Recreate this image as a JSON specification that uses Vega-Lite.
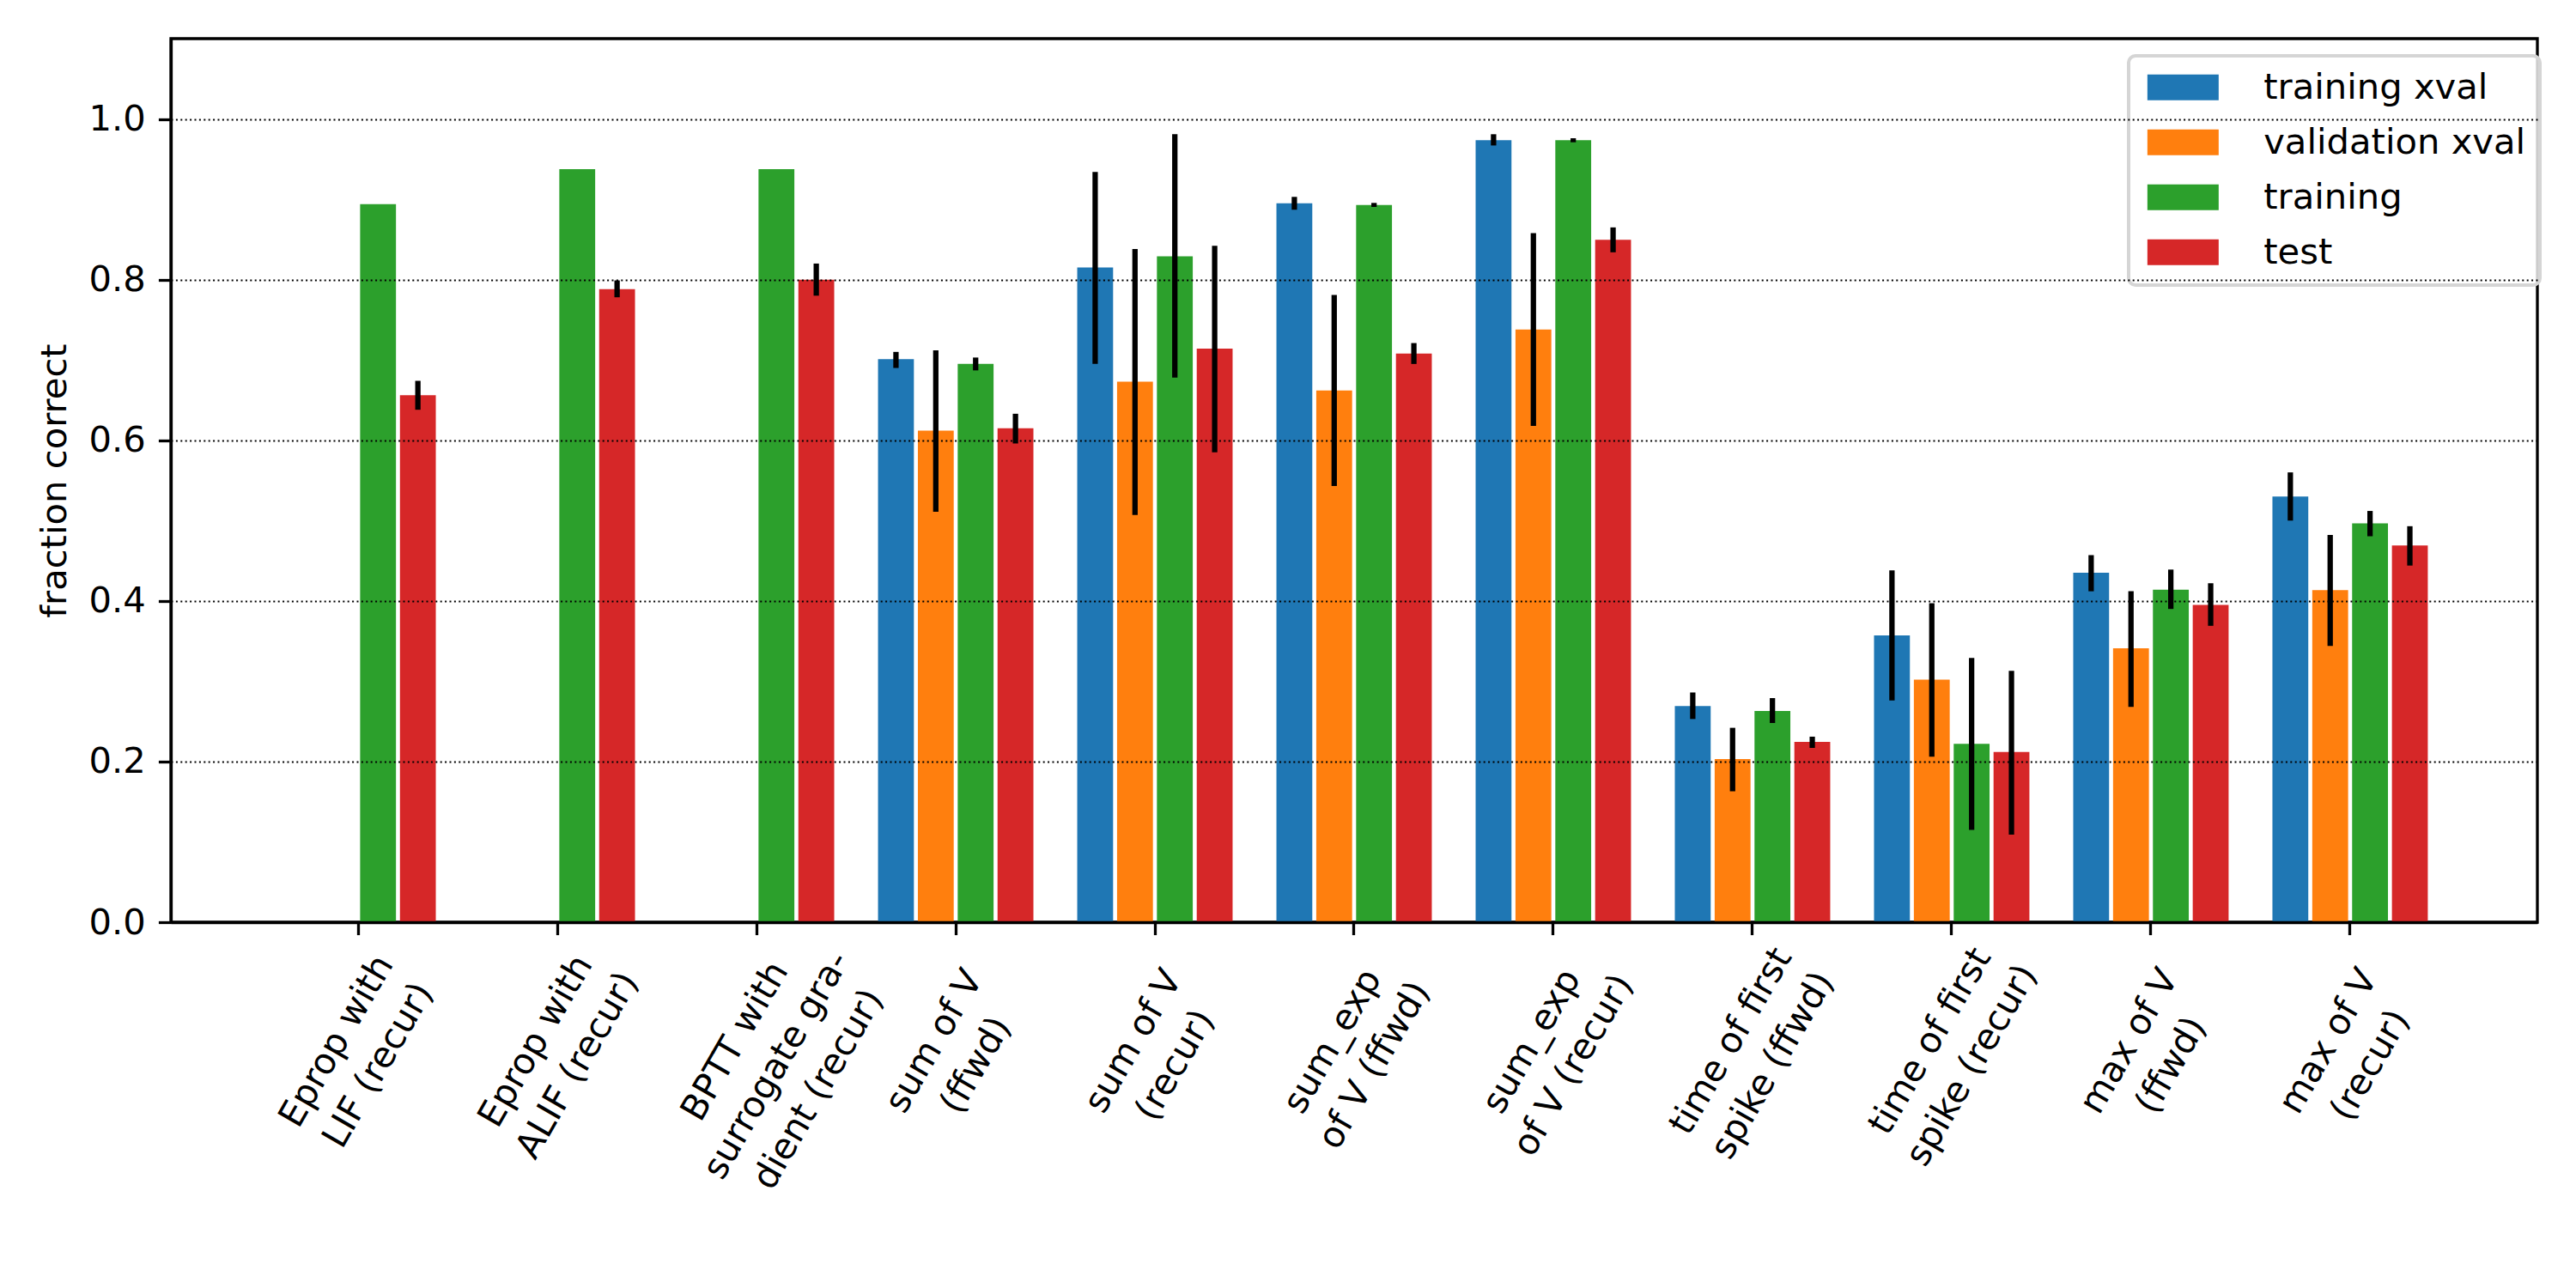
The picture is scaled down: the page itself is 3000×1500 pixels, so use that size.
{
  "$schema": "https://vega.github.io/schema/vega-lite/v6.json",
  "width": 2756,
  "height": 1029,
  "autosize": {"type": "none"},
  "padding": {"left": 199, "top": 45, "right": 45, "bottom": 426},
  "background": "white",
  "data": {
    "values": [
      {"method": "Eprop with\nLIF (recur)", "split": "training", "value": 0.894},
      {"method": "Eprop with\nLIF (recur)", "split": "test", "value": 0.656, "lo": 0.638, "hi": 0.674},
      {"method": "Eprop with\nALIF (recur)", "split": "training", "value": 0.9375},
      {"method": "Eprop with\nALIF (recur)", "split": "test", "value": 0.788, "lo": 0.778, "hi": 0.799},
      {"method": "BPTT with\nsurrogate gra-\ndient (recur)", "split": "training", "value": 0.9375},
      {"method": "BPTT with\nsurrogate gra-\ndient (recur)", "split": "test", "value": 0.800, "lo": 0.780, "hi": 0.820},
      {"method": "sum of V\n(ffwd)", "split": "training xval", "value": 0.701, "lo": 0.690, "hi": 0.710},
      {"method": "sum of V\n(ffwd)", "split": "validation xval", "value": 0.612, "lo": 0.511, "hi": 0.712},
      {"method": "sum of V\n(ffwd)", "split": "training", "value": 0.695, "lo": 0.687, "hi": 0.703},
      {"method": "sum of V\n(ffwd)", "split": "test", "value": 0.615, "lo": 0.596, "hi": 0.633},
      {"method": "sum of V\n(recur)", "split": "training xval", "value": 0.815, "lo": 0.695, "hi": 0.934},
      {"method": "sum of V\n(recur)", "split": "validation xval", "value": 0.673, "lo": 0.507, "hi": 0.838},
      {"method": "sum of V\n(recur)", "split": "training", "value": 0.829, "lo": 0.678, "hi": 0.981},
      {"method": "sum of V\n(recur)", "split": "test", "value": 0.714, "lo": 0.585, "hi": 0.842},
      {"method": "sum_exp\nof V (ffwd)", "split": "training xval", "value": 0.895, "lo": 0.887, "hi": 0.903},
      {"method": "sum_exp\nof V (ffwd)", "split": "validation xval", "value": 0.662, "lo": 0.543, "hi": 0.781},
      {"method": "sum_exp\nof V (ffwd)", "split": "training", "value": 0.893, "lo": 0.8905, "hi": 0.8955},
      {"method": "sum_exp\nof V (ffwd)", "split": "test", "value": 0.708, "lo": 0.695, "hi": 0.721},
      {"method": "sum_exp\nof V (recur)", "split": "training xval", "value": 0.9735, "lo": 0.967, "hi": 0.981},
      {"method": "sum_exp\nof V (recur)", "split": "validation xval", "value": 0.738, "lo": 0.618, "hi": 0.858},
      {"method": "sum_exp\nof V (recur)", "split": "training", "value": 0.9735, "lo": 0.971, "hi": 0.976},
      {"method": "sum_exp\nof V (recur)", "split": "test", "value": 0.8495, "lo": 0.834, "hi": 0.865},
      {"method": "time of first\nspike (ffwd)", "split": "training xval", "value": 0.269, "lo": 0.253, "hi": 0.286},
      {"method": "time of first\nspike (ffwd)", "split": "validation xval", "value": 0.203, "lo": 0.163, "hi": 0.242},
      {"method": "time of first\nspike (ffwd)", "split": "training", "value": 0.263, "lo": 0.248, "hi": 0.279},
      {"method": "time of first\nspike (ffwd)", "split": "test", "value": 0.2245, "lo": 0.217, "hi": 0.231},
      {"method": "time of first\nspike (recur)", "split": "training xval", "value": 0.357, "lo": 0.276, "hi": 0.438},
      {"method": "time of first\nspike (recur)", "split": "validation xval", "value": 0.302, "lo": 0.206, "hi": 0.397},
      {"method": "time of first\nspike (recur)", "split": "training", "value": 0.222, "lo": 0.115, "hi": 0.329},
      {"method": "time of first\nspike (recur)", "split": "test", "value": 0.212, "lo": 0.109, "hi": 0.313},
      {"method": "max of V\n(ffwd)", "split": "training xval", "value": 0.435, "lo": 0.412, "hi": 0.457},
      {"method": "max of V\n(ffwd)", "split": "validation xval", "value": 0.341, "lo": 0.268, "hi": 0.412},
      {"method": "max of V\n(ffwd)", "split": "training", "value": 0.414, "lo": 0.390, "hi": 0.439},
      {"method": "max of V\n(ffwd)", "split": "test", "value": 0.395, "lo": 0.369, "hi": 0.422},
      {"method": "max of V\n(recur)", "split": "training xval", "value": 0.530, "lo": 0.500, "hi": 0.560},
      {"method": "max of V\n(recur)", "split": "validation xval", "value": 0.4135, "lo": 0.344, "hi": 0.482},
      {"method": "max of V\n(recur)", "split": "training", "value": 0.4966, "lo": 0.4805, "hi": 0.512},
      {"method": "max of V\n(recur)", "split": "test", "value": 0.469, "lo": 0.444, "hi": 0.493}
    ]
  },
  "encoding": {
    "x": {
      "field": "method",
      "type": "nominal",
      "sort": null,
      "scale": {"paddingInner": 0.2, "paddingOuter": 0.54},
      "axis": {
        "title": null,
        "labelAngle": -60,
        "labelAlign": "center",
        "labelBaseline": "line-bottom",
        "labelPadding": 138,
        "labelFontSize": 41.7,
        "labelLineHeight": 56,
        "labelLimit": 0,
        "labelOverlap": false,
        "labelBound": false,
        "labelFlush": false,
        "labelExpr": "split(datum.value, '\\n')",
        "labelColor": "black",
        "tickSize": 14.6,
        "tickWidth": 3.3,
        "tickColor": "black",
        "domainColor": "black",
        "domainWidth": 3.3,
        "grid": false,
        "zindex": 1
      }
    },
    "xOffset": {
      "field": "split",
      "type": "nominal",
      "scale": {
        "domain": ["training xval", "validation xval", "training", "test"],
        "paddingInner": 0.1,
        "paddingOuter": 0.05
      }
    }
  },
  "layer": [
    {
      "mark": {"type": "bar"},
      "encoding": {
        "y": {
          "field": "value",
          "type": "quantitative",
          "title": "fraction correct",
          "scale": {"domain": [0, 1.1], "nice": false, "zero": true},
          "axis": {
            "values": [0, 0.2, 0.4, 0.6, 0.8, 1.0],
            "format": ".1f",
            "grid": true,
            "gridColor": "black",
            "gridDash": [2, 3.4],
            "gridWidth": 2,
            "gridOpacity": 1,
            "tickSize": 14.6,
            "tickWidth": 3.3,
            "tickColor": "black",
            "domainColor": "black",
            "domainWidth": 3.3,
            "labelFontSize": 41.7,
            "labelPadding": 15,
            "labelColor": "black",
            "titleFontSize": 41.7,
            "titleFontWeight": "normal",
            "titleColor": "black",
            "titlePadding": 18,
            "zindex": 1
          }
        },
        "color": {
          "field": "split",
          "type": "nominal",
          "scale": {
            "domain": ["training xval", "validation xval", "training", "test"],
            "range": ["#1f77b4", "#ff7f0e", "#2ca02c", "#d62728"]
          },
          "legend": {
            "orient": "none",
            "legendX": 2280,
            "legendY": 20,
            "title": null,
            "symbolType": "M-2.767,-1L2.767,-1L2.767,1L-2.767,1Z",
            "symbolSize": 900,
            "symbolOffset": 26.5,
            "symbolStrokeWidth": 0,
            "symbolOpacity": 1,
            "labelFontSize": 41.7,
            "labelColor": "black",
            "labelOffset": 73,
            "labelLimit": 0,
            "rowPadding": 21,
            "padding": 16,
            "strokeColor": "#d5d5d5",
            "cornerRadius": 8,
            "fillColor": "rgba(255,255,255,0.8)"
          }
        }
      }
    },
    {
      "transform": [{"filter": "datum.lo != null"}],
      "mark": {"type": "rule", "color": "black", "strokeWidth": 6.25},
      "encoding": {
        "y": {"field": "lo", "type": "quantitative", "title": "fraction correct"},
        "y2": {"field": "hi"}
      }
    }
  ],
  "config": {
    "font": "DejaVu Sans",
    "view": {"stroke": "black", "strokeWidth": 3.3},
    "legend": {"strokeWidth": 4}
  }
}
